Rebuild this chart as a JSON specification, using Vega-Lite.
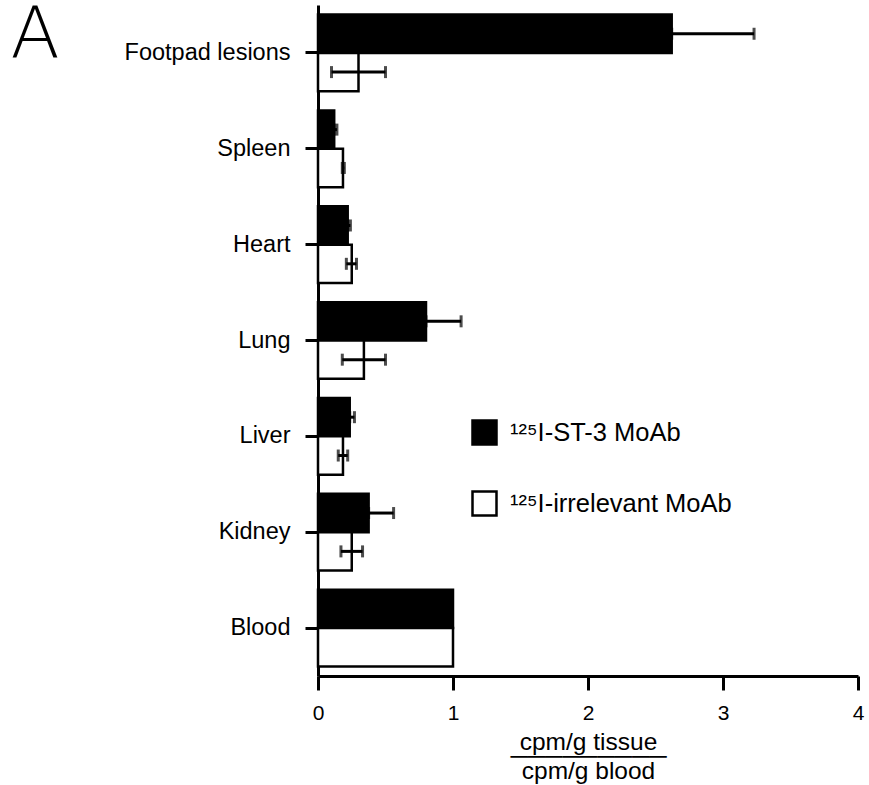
{
  "$schema": "https://vega.github.io/schema/vega-lite/v6.json",
  "width": 540,
  "height": 671,
  "autosize": {"type": "none"},
  "padding": {"left": 318, "top": 5, "right": 11, "bottom": 109},
  "background": "white",
  "config": {
    "view": {"stroke": null},
    "font": "Liberation Sans",
    "axis": {
      "domainColor": "black",
      "domainWidth": 3,
      "tickColor": "black",
      "tickWidth": 3,
      "grid": false,
      "labelColor": "black",
      "titleColor": "black",
      "labelFont": "Liberation Sans",
      "titleFont": "Liberation Sans"
    },
    "legend": {"padding": 0}
  },
  "data": {
    "values": [
      {"tissue": "Footpad lesions", "group": "¹²⁵I-ST-3 MoAb", "value": 2.62, "lo": 2.62, "hi": 3.23},
      {"tissue": "Footpad lesions", "group": "¹²⁵I-irrelevant MoAb", "value": 0.30, "lo": 0.10, "hi": 0.50},
      {"tissue": "Spleen", "group": "¹²⁵I-ST-3 MoAb", "value": 0.12, "lo": 0.12, "hi": 0.14},
      {"tissue": "Spleen", "group": "¹²⁵I-irrelevant MoAb", "value": 0.185, "lo": 0.18, "hi": 0.195},
      {"tissue": "Heart", "group": "¹²⁵I-ST-3 MoAb", "value": 0.22, "lo": 0.22, "hi": 0.24},
      {"tissue": "Heart", "group": "¹²⁵I-irrelevant MoAb", "value": 0.25, "lo": 0.21, "hi": 0.285},
      {"tissue": "Lung", "group": "¹²⁵I-ST-3 MoAb", "value": 0.80, "lo": 0.80, "hi": 1.06},
      {"tissue": "Lung", "group": "¹²⁵I-irrelevant MoAb", "value": 0.34, "lo": 0.18, "hi": 0.50},
      {"tissue": "Liver", "group": "¹²⁵I-ST-3 MoAb", "value": 0.235, "lo": 0.235, "hi": 0.27},
      {"tissue": "Liver", "group": "¹²⁵I-irrelevant MoAb", "value": 0.185, "lo": 0.15, "hi": 0.22},
      {"tissue": "Kidney", "group": "¹²⁵I-ST-3 MoAb", "value": 0.375, "lo": 0.375, "hi": 0.56},
      {"tissue": "Kidney", "group": "¹²⁵I-irrelevant MoAb", "value": 0.25, "lo": 0.17, "hi": 0.33},
      {"tissue": "Blood", "group": "¹²⁵I-ST-3 MoAb", "value": 1.0, "lo": null, "hi": null},
      {"tissue": "Blood", "group": "¹²⁵I-irrelevant MoAb", "value": 1.0, "lo": null, "hi": null}
    ]
  },
  "encoding": {
    "y": {
      "field": "tissue",
      "type": "nominal",
      "sort": ["Footpad lesions", "Spleen", "Heart", "Lung", "Liver", "Kidney", "Blood"],
      "scale": {"paddingInner": 0.2, "paddingOuter": 0.1},
      "axis": {
        "title": "A",
        "titleAngle": 0,
        "titleX": -308,
        "titleY": 51,
        "titleAlign": "left",
        "titleBaseline": "alphabetic",
        "titleFont": "DejaVu Sans",
        "titleFontWeight": 200,
        "titleFontSize": 72,
        "tickSize": 13,
        "labelPadding": 15,
        "labelFontSize": 23.5,
        "domain": true
      }
    },
    "yOffset": {
      "field": "group",
      "type": "nominal",
      "sort": ["¹²⁵I-ST-3 MoAb", "¹²⁵I-irrelevant MoAb"],
      "scale": {"paddingInner": 0, "paddingOuter": 0}
    }
  },
  "layer": [
    {
      "mark": {"type": "bar", "stroke": "black", "strokeWidth": 2.5},
      "encoding": {
        "x": {
          "field": "value",
          "type": "quantitative",
          "scale": {"domain": [0, 4], "nice": false},
          "axis": {
            "values": [0, 1, 2, 3, 4],
            "format": "d",
            "tickSize": 14,
            "labelPadding": 12,
            "labelFontSize": 21,
            "labelFlush": false,
            "title": ["cpm/g tissue", "─────────", "cpm/g blood"],
            "titleFontSize": 24.5,
            "titleFontWeight": "normal",
            "titleLineHeight": 14.5,
            "titlePadding": 7
          }
        },
        "fill": {
          "field": "group",
          "type": "nominal",
          "scale": {"domain": ["¹²⁵I-ST-3 MoAb", "¹²⁵I-irrelevant MoAb"], "range": ["black", "white"]},
          "legend": {
            "title": null,
            "orient": "none",
            "legendX": 153,
            "legendY": 414,
            "symbolType": "square",
            "symbolSize": 576,
            "symbolStrokeColor": "black",
            "symbolStrokeWidth": 2.5,
            "labelFontSize": 25.5,
            "labelColor": "black",
            "labelOffset": 12,
            "rowPadding": 36,
            "labelLimit": 400
          }
        }
      }
    },
    {
      "transform": [{"filter": "datum.hi != null"}],
      "mark": {"type": "rule", "color": "black", "strokeWidth": 3},
      "encoding": {
        "x": {"field": "lo", "type": "quantitative"},
        "x2": {"field": "hi"}
      }
    },
    {
      "transform": [{"filter": "datum.hi != null"}],
      "mark": {"type": "tick", "color": "black", "thickness": 3, "size": 12},
      "encoding": {
        "x": {"field": "hi", "type": "quantitative"}
      }
    },
    {
      "transform": [{"filter": "datum.hi != null"}],
      "mark": {"type": "tick", "color": "black", "thickness": 3, "size": 12},
      "encoding": {
        "x": {"field": "lo", "type": "quantitative"}
      }
    }
  ]
}
